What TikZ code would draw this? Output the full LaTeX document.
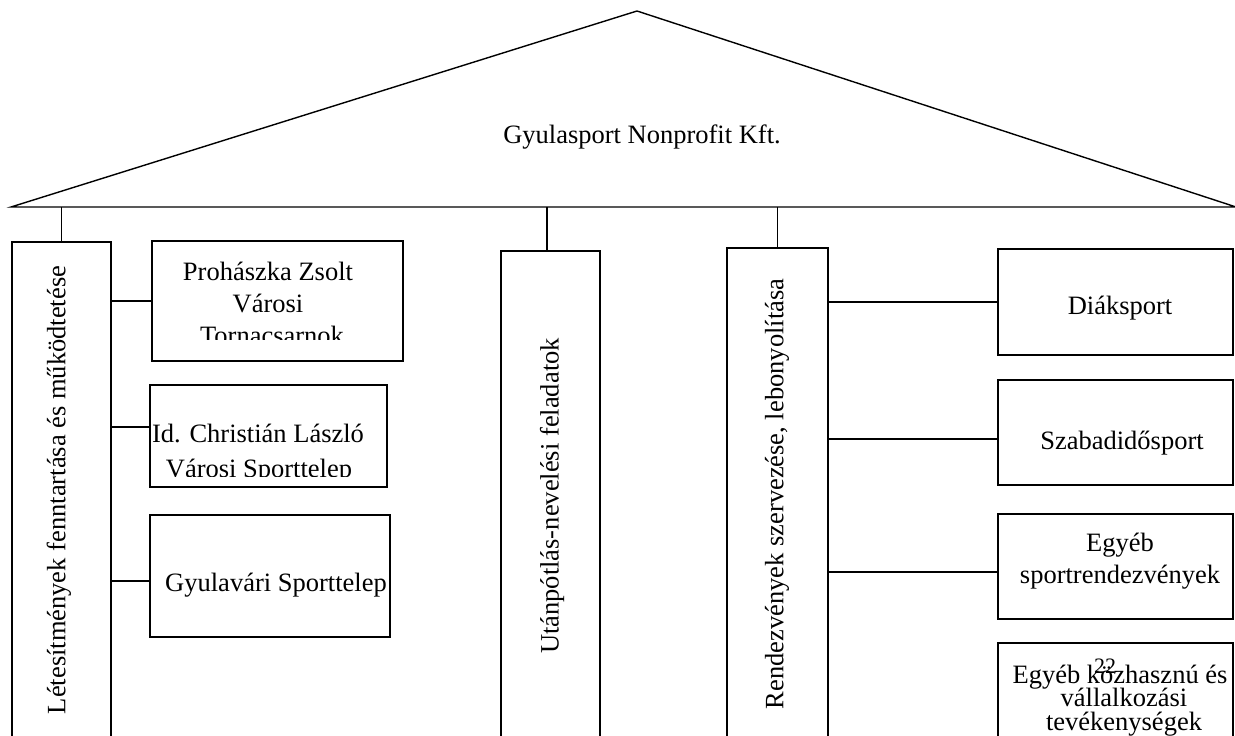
\documentclass[tikz,border=0pt]{standalone}
\usepackage{fontspec}
\setmainfont{Liberation Serif}
\usetikzlibrary{calc}
\begin{document}
\begin{tikzpicture}[x=1pt,y=-1pt,
  every node/.style={font=\fontsize{26.5}{31}\selectfont, inner sep=0pt},
  boxst/.style={draw, line width=1.4pt},
  conn/.style={draw, line width=1.4pt},
  lbl/.style={anchor=base},
  vlbl/.style={rotate=90}]
\useasboundingbox (0,0) rectangle (1235,736);
\clip (0,0) rectangle (1235,736);
% roof
\coordinate (apex) at (637,11);
\coordinate (rl) at (11,207);
\coordinate (rr) at (1236,207);
\draw[line width=1.4pt, line join=miter] (rl) -- (apex) -- (rr) -- cycle;
\node[lbl] (tt) at (642,143) {Gyulasport Nonprofit Kft.};
% main columns
\node[boxst, minimum width=99, minimum height=518] (l1) at (61.5,501) {};
\node[boxst, minimum width=99, minimum height=509] (u1) at (550.5,505.5) {};
\node[boxst, minimum width=101, minimum height=512] (r1) at (777.5,504) {};
\node[vlbl] (l1t) at (59,490) {Létesítmények fenntartása és működtetése};
\node[vlbl] (u1t) at (552,496) {Utánpótlás-nevelési feladatok};
\node[vlbl] (r1t) at (777,494) {Rendezvények szervezése, lebonyolítása};
% left sub boxes
\node[boxst, minimum width=251, minimum height=120] (p1) at (277.5,301) {};
\node[boxst, minimum width=237, minimum height=102] (p2) at (268.5,436) {};
\node[boxst, minimum width=240, minimum height=122] (p3) at (270,576) {};
% right sub boxes
\node[boxst, minimum width=235, minimum height=106] (d1) at (1115.5,302) {};
\node[boxst, minimum width=235, minimum height=105] (d2) at (1115.5,432.5) {};
\node[boxst, minimum width=235, minimum height=105] (d3) at (1115.5,566.5) {};
\node[boxst, minimum width=235, minimum height=117] (d4) at (1115.5,701.5) {};
% texts of sub boxes
\node[lbl] (p1a) at (268,280) {Prohászka Zsolt};
\node[lbl] (p1b) at (268,312) {Városi};
\begin{scope}
  \clip (152,241) rectangle (403,339);
  \node[lbl] (p1c) at (272,344) {Tornacsarnok};
\end{scope}
\node[lbl] (p2a) at (258,442) {Id. Christián László};
\begin{scope}
  \clip (150,385) rectangle (387,476);
  \node[lbl] (p2b) at (259,477) {Városi Sporttelep};
\end{scope}
\node[lbl] (p3a) at (276,591) {Gyulavári Sporttelep};
\node[lbl] (d1a) at (1120,314) {Diáksport};
\node[lbl] (d2a) at (1122,449) {Szabadidősport};
\node[lbl] (d3a) at (1120,551) {Egyéb};
\node[lbl] (d3b) at (1120,583) {sportrendezvények};
\node[lbl] (d4a) at (1120,683) {Egyéb közhasznú és};
\node[lbl] (d4b) at (1124,706) {vállalkozási};
\node[lbl] (d4c) at (1124,730) {tevékenységek};
\node[lbl, font=\fontsize{22}{26}\selectfont] (pg) at (1105,673) {22};
% connectors from roof
\draw[conn] (l1.north) -- (l1.north |- rl);
\draw[conn] ([xshift=-3.5pt]u1.north) -- ([xshift=-3.5pt]u1.north |- rl);
\draw[conn] (r1.north) -- (r1.north |- rl);
% connectors left
\draw[conn] (l1.east |- p1.west) -- (p1.west);
\coordinate (c2) at ([yshift=9pt]p2.west);
\draw[conn] (c2 -| l1.east) -- (c2);
\coordinate (c3) at ([yshift=-5pt]p3.west);
\draw[conn] (c3 -| l1.east) -- (c3);
% connectors right
\draw[conn] (r1.east |- d1.west) -- (d1.west);
\coordinate (c5) at ([yshift=-6.5pt]d2.west);
\draw[conn] (c5 -| r1.east) -- (c5);
\coordinate (c6) at ([yshift=-5.5pt]d3.west);
\draw[conn] (c6 -| r1.east) -- (c6);
\end{tikzpicture}
\end{document}
